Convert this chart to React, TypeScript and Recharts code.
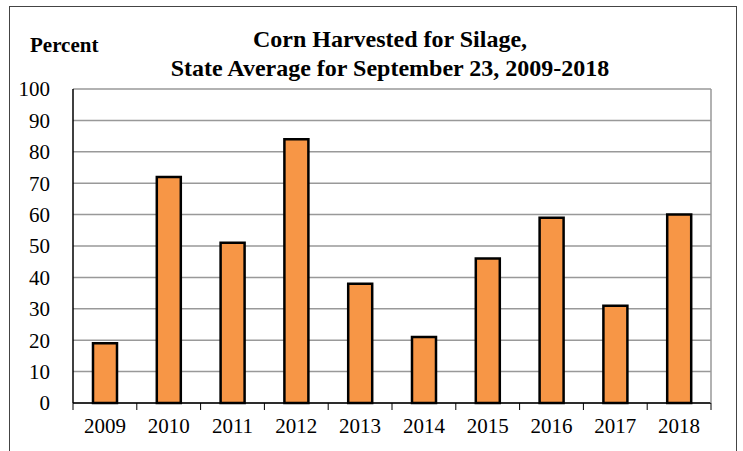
import React from "react";
import { BarChart, Bar, XAxis, YAxis, CartesianGrid } from "recharts";

const years = ["2009", "2010", "2011", "2012", "2013", "2014", "2015", "2016", "2017", "2018"];
const percentHarvested = [19, 72, 51, 84, 38, 21, 46, 59, 31, 60];
const yTicks = [0, 10, 20, 30, 40, 50, 60, 70, 80, 90, 100];

const data = years.map((y, i) => ({ year: y, value: percentHarvested[i] }));

const CHART_W = 743;
const CHART_H = 451;
const MARGIN = { top: 89, right: 0, left: 0, bottom: 0 };
const Y_W = 73;
const Y_R_W = 32;
const PLOT_W = CHART_W - Y_W - Y_R_W;
const BAND = PLOT_W / years.length;
const FONT = "Liberation Serif";

const XTick = (props: any) => {
  const { x, y, payload, index } = props;
  const half = BAND / 2;
  return (
    <g>
      <line x1={x - half} x2={x - half} y1={y - 8} y2={y - 1} stroke="#000" strokeWidth={1} />
      {index === years.length - 1 && (
        <line x1={x + half} x2={x + half} y1={y - 8} y2={y - 1} stroke="#000" strokeWidth={1} />
      )}
      <text x={x} y={y + 22} textAnchor="middle" style={{ fontFamily: FONT }} fontSize={21} fill="#000">
        {payload.value}
      </text>
    </g>
  );
};

export default function App() {
  return (
    <div style={{ position: "absolute", left: 0, top: 0, width: CHART_W, height: CHART_H, overflow: "hidden", background: "#fff", fontFamily: FONT }}>
      <div style={{ position: "absolute", left: 9, top: 6, width: 728, height: 470, border: "1px solid #444", boxSizing: "border-box" }} />
      <div style={{ position: "absolute", left: 30, top: 35, fontFamily: FONT, fontWeight: "bold", fontSize: 21, lineHeight: "21px", color: "#000", whiteSpace: "nowrap" }}>Percent</div>
      <div style={{ position: "absolute", left: 90, width: 600, top: 25, textAlign: "center", fontFamily: FONT, fontWeight: "bold", fontSize: 24, lineHeight: "29px", color: "#000" }}>
        Corn Harvested for Silage,<br />State Average for September 23, 2009-2018
      </div>
      <div style={{ position: "absolute", left: 0, top: 0 }}>
        <BarChart width={CHART_W} height={CHART_H} data={data} margin={MARGIN} barSize={24} style={{ fontFamily: FONT }}>
          <CartesianGrid vertical={false} stroke="#999" strokeWidth={1.5} yAxisId="l" />
          <XAxis
            dataKey="year"
            height={48}
            axisLine={{ stroke: "#000", strokeWidth: 1.5 }}
            tickLine={false}
            tick={<XTick />}
            interval={0}
          />
          <YAxis
            yAxisId="l"
            width={Y_W}
            domain={[0, 100]}
            ticks={yTicks}
            interval={0}
            axisLine={{ stroke: "#000", strokeWidth: 1.5 }}
            tickLine={false}
            tickMargin={17}
            tick={{ fontFamily: FONT, fontSize: 21, fill: "#000", style: { fontFamily: FONT } }}
          />
          <YAxis
            yAxisId="r"
            orientation="right"
            width={Y_R_W}
            domain={[0, 100]}
            tick={false}
            tickLine={false}
            axisLine={{ stroke: "#999", strokeWidth: 1.5 }}
          />
          <Bar yAxisId="l" dataKey="value" fill="#F79646" stroke="#000" strokeWidth={2.5} isAnimationActive={false} />
        </BarChart>
      </div>
    </div>
  );
}
